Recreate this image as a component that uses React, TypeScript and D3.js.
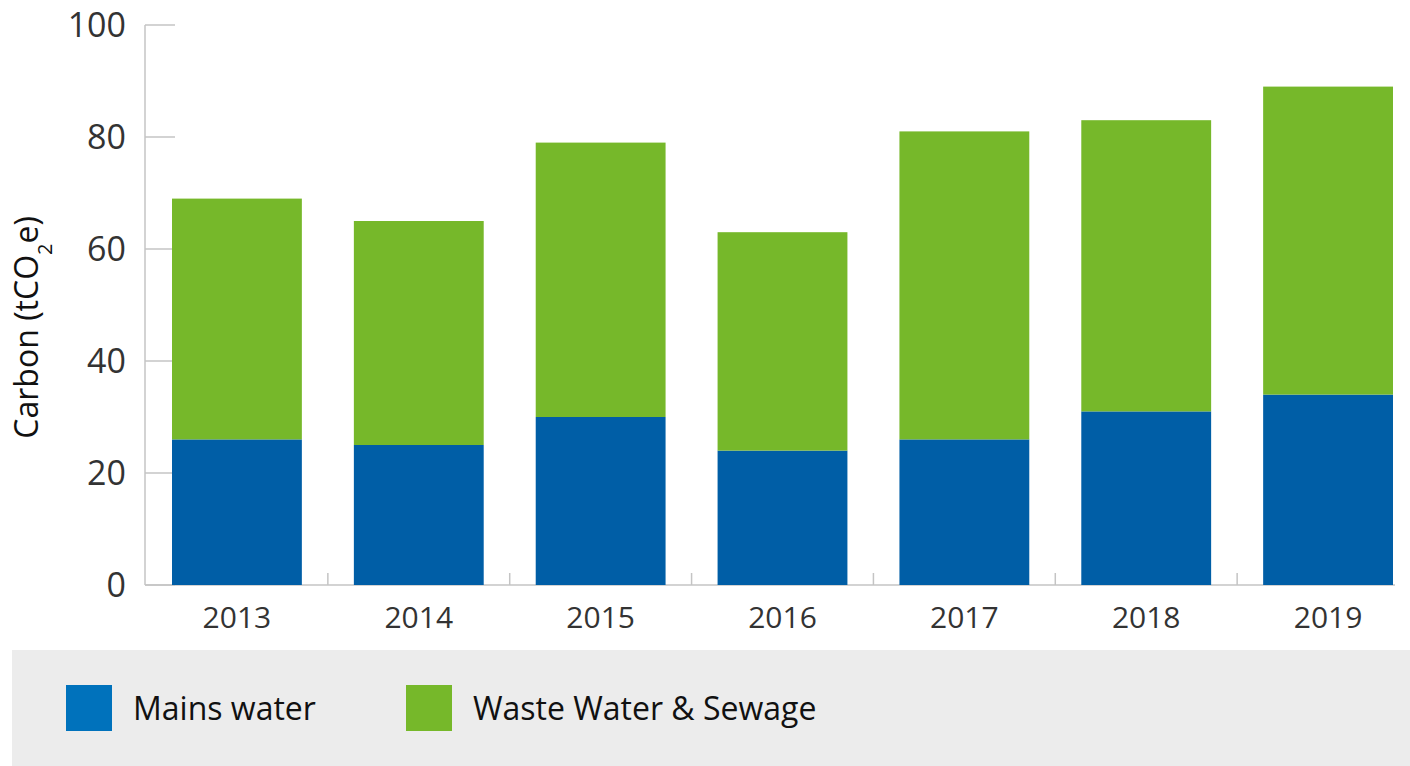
import React from "react";
import * as d3 from "d3";

const years = ["2013", "2014", "2015", "2016", "2017", "2018", "2019"];
const mainsWater = [26, 25, 30, 24, 26, 31, 34];
const wasteWater = [43, 40, 49, 39, 55, 52, 55];
const yTicks = [0, 20, 40, 60, 80, 100];
const seriesNames = ["Mains water", "Waste Water & Sewage"];
const barColors = ["#005EA6", "#76B82A"];
const legendColors = ["#0072BC", "#76B82A"];

const W = 1410;
const H = 766;
const FONT = "'Open Sans', 'Noto Sans', sans-serif";

export default function App() {
  const x = d3
    .scaleBand<string>()
    .domain(years)
    .range([145, 1420])
    .paddingInner(0.286)
    .paddingOuter(0.1485);
  const y = d3.scaleLinear().domain([0, 100]).range([585, 25]);

  const data = years.map((yr, i) => ({ year: yr, mains: mainsWater[i], waste: wasteWater[i] }));
  const stack = d3.stack<any>().keys(["mains", "waste"])(data as any);

  const step = x.step();
  const bw = x.bandwidth();
  const boundaries = years.slice(1).map((yr) => (x(yr) as number) - (step - bw) / 2);

  return (
    <svg
      width={W}
      height={H}
      style={{ position: "absolute", left: 0, top: 0, background: "#fff" }}
      fontFamily={FONT}
    >
      {yTicks.map((t) => (
        <line key={"t" + t} x1={145} x2={175} y1={y(t)} y2={y(t)} stroke="#c4c4c4" strokeWidth={1.5} />
      ))}
      {boundaries.map((b, i) => (
        <line key={"b" + i} x1={b} x2={b} y1={585} y2={573} stroke="#c4c4c4" strokeWidth={1.5} />
      ))}
      <line x1={145} x2={145} y1={y(100)} y2={585} stroke="#c4c4c4" strokeWidth={1.5} />
      <line x1={145} x2={1395} y1={585} y2={585} stroke="#c4c4c4" strokeWidth={1.5} />

      {stack.map((layer, si) =>
        layer.map((d: any, i: number) => (
          <rect
            key={si + "-" + i}
            x={x(years[i])}
            y={y(d[1])}
            width={bw}
            height={y(d[0]) - y(d[1])}
            fill={barColors[si]}
          />
        ))
      )}

      {yTicks.map((t) => (
        <text
          key={"l" + t}
          x={126}
          y={y(t)}
          dy="0.36em"
          textAnchor="end"
          fontSize={34}
          fill="#333"
        >
          {t}
        </text>
      ))}

      {years.map((yr) => (
        <text
          key={"x" + yr}
          x={(x(yr) as number) + bw / 2}
          y={628}
          textAnchor="middle"
          fontSize={30}
          fill="#333"
        >
          {yr}
        </text>
      ))}

      <text
        transform={`translate(38, ${y(46)}) rotate(-90)`}
        textAnchor="middle"
        fontSize={32}
        fill="#111"
      >
        Carbon (tCO
        <tspan baselineShift="sub" fontSize={20}>
          2
        </tspan>
        e)
      </text>

      <rect x={12} y={650} width={W - 12} height={H - 650} fill="#ECECEC" />
      {seriesNames.map((name, i) => {
        const lx = i === 0 ? 66 : 406;
        return (
          <g key={name}>
            <rect x={lx} y={685} width={46} height={46} fill={legendColors[i]} />
            <text x={lx + 67} y={720} fontSize={32} fill="#111">
              {name}
            </text>
          </g>
        );
      })}
    </svg>
  );
}
